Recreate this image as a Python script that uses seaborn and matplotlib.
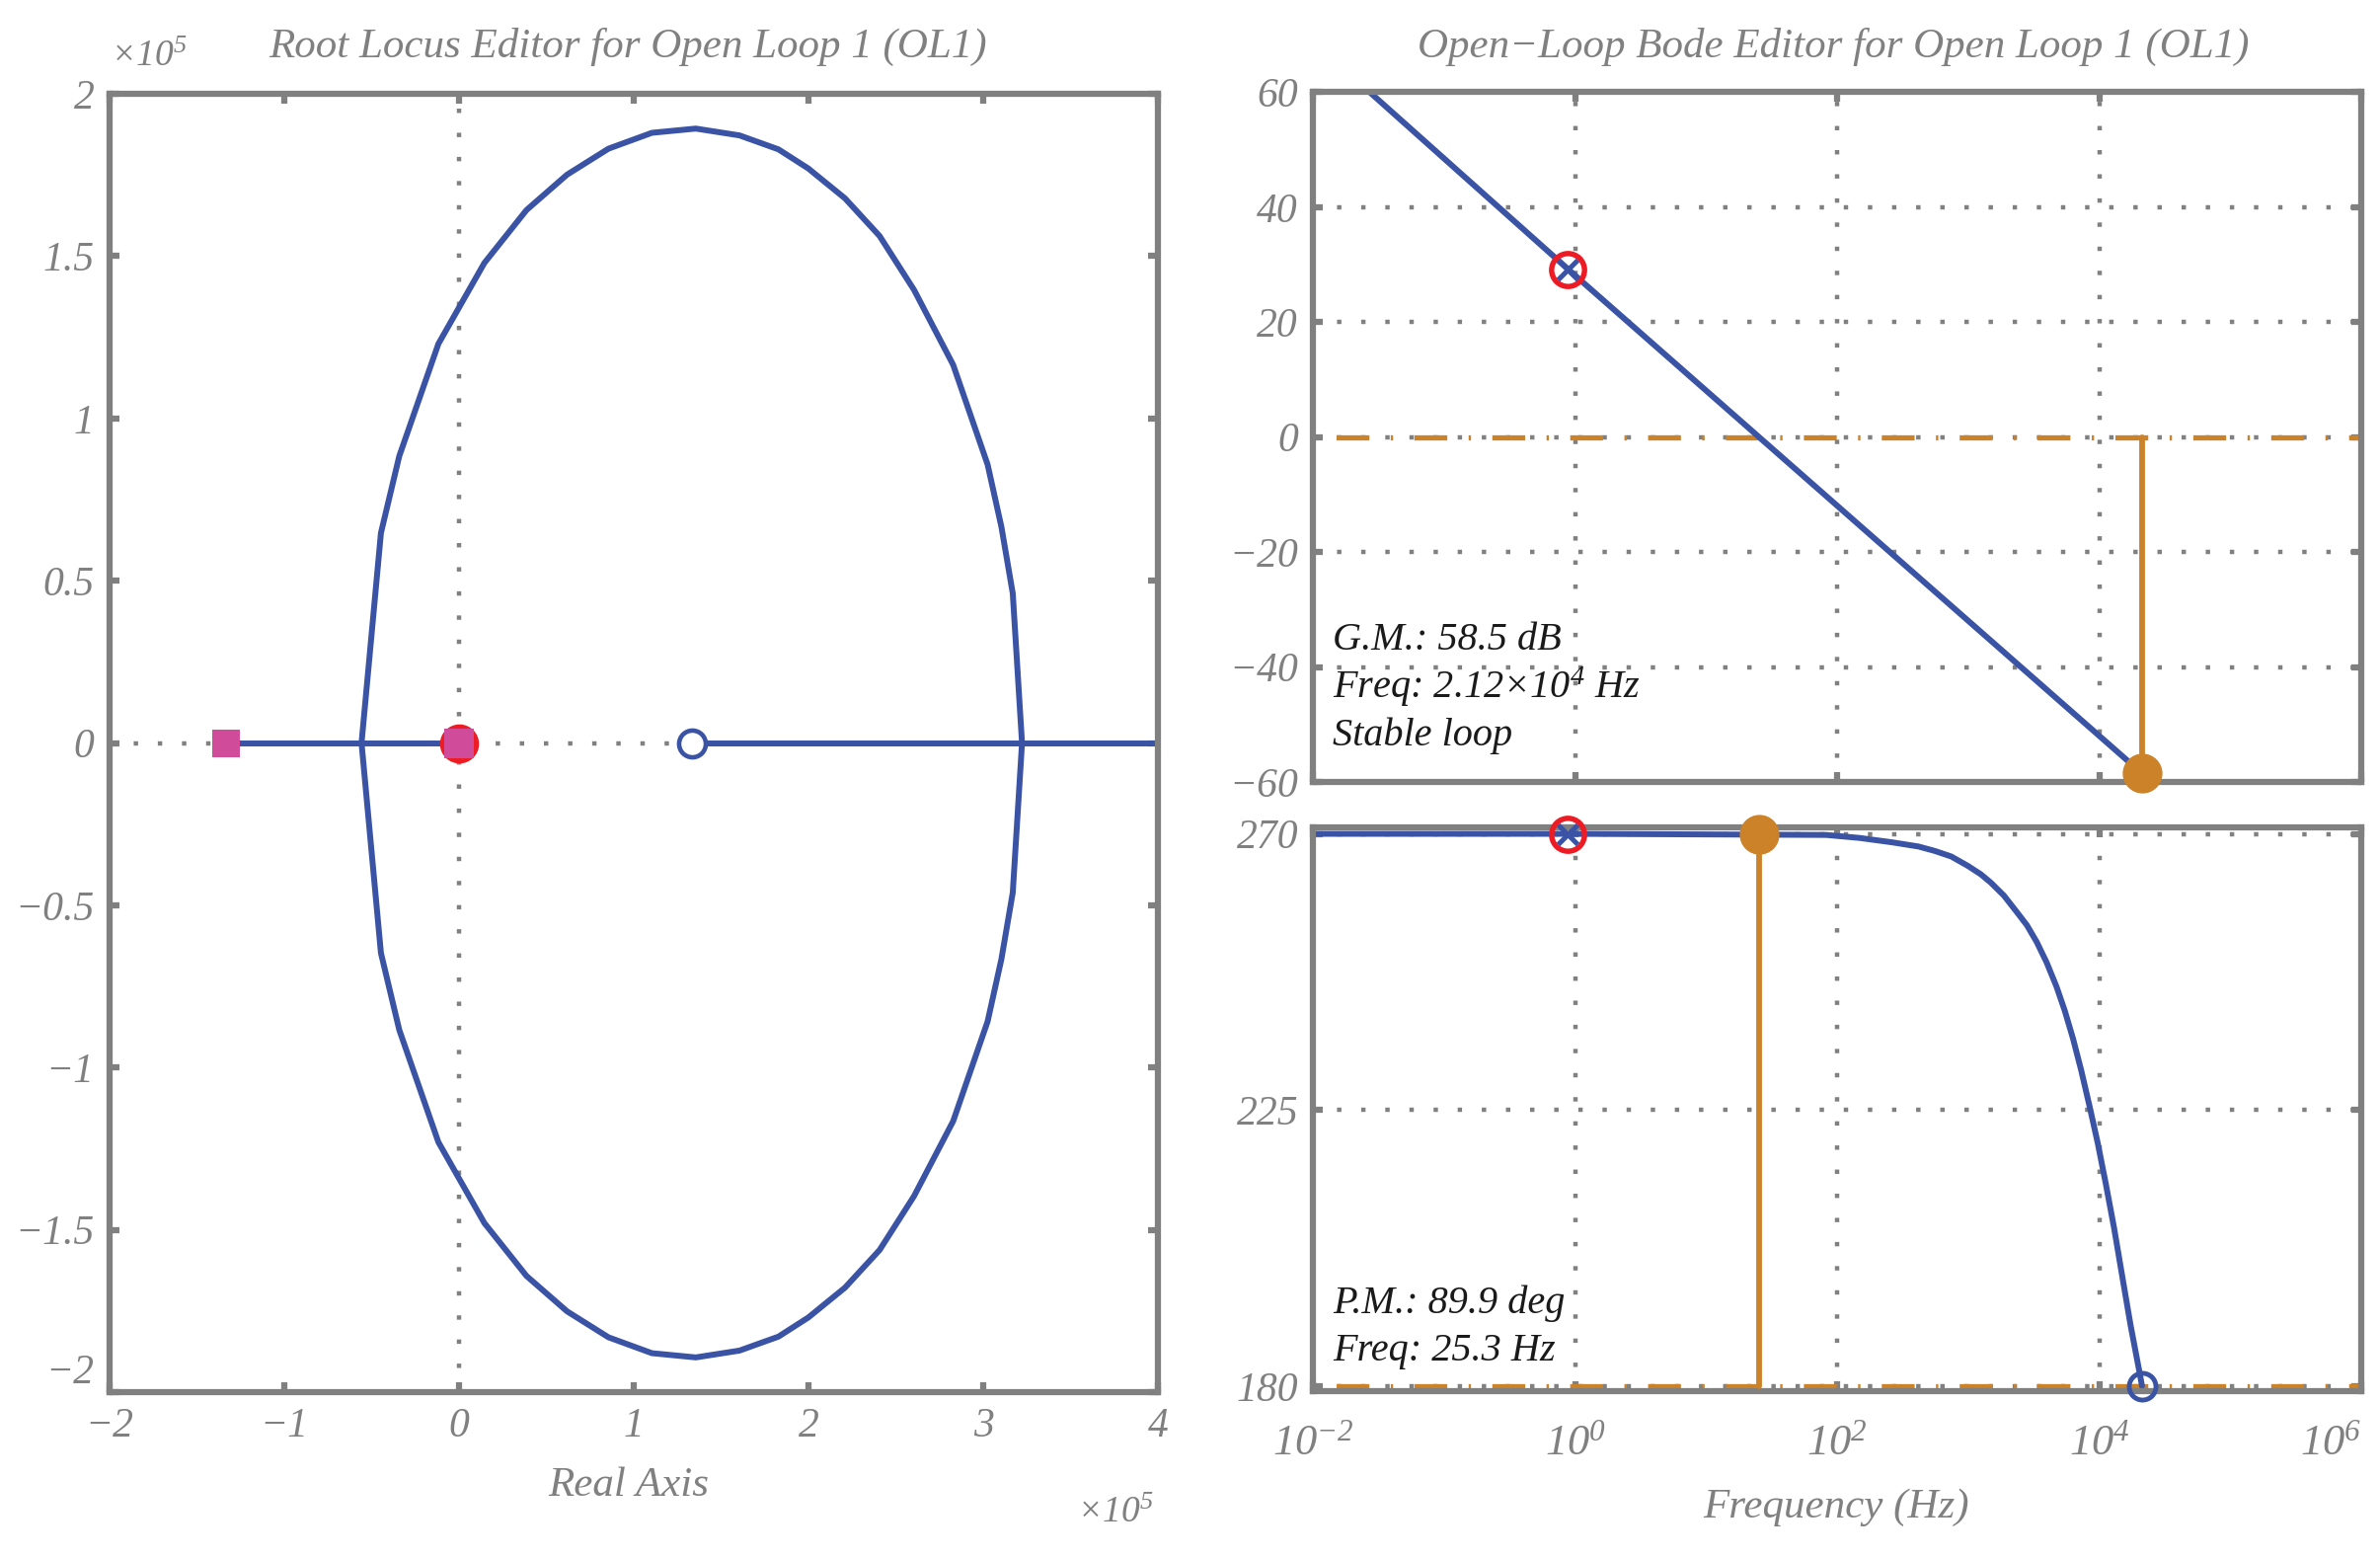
import pandas as pd
import matplotlib
matplotlib.use('Agg')
import matplotlib.pyplot as plt
from matplotlib.ticker import NullLocator
import seaborn as sns

# Root locus (real / imaginary parts in units of 1e5), upper branch vertices
locus_re = [-0.558, -0.447, -0.342, -0.118, 0.145, 0.386, 0.618, 0.855, 1.104, 1.355,
            1.605, 1.828, 1.999, 2.209, 2.407, 2.604, 2.828, 3.025, 3.104, 3.169, 3.222]
locus_im = [0.0, 0.647, 0.884, 1.230, 1.479, 1.642, 1.751, 1.831, 1.880, 1.893,
            1.872, 1.829, 1.770, 1.678, 1.562, 1.396, 1.165, 0.858, 0.666, 0.461, 0.0]
real_branch_left = [-1.335, 0.0]
real_branch_right = [1.333, 4.3]
cl_pole_re = [-1.335, 0.0]
ol_pole_re = [0.0]
ol_zero_re = [1.333]
rl_xticks = [-2, -1, 0, 1, 2, 3, 4]
rl_xlabels = ['\u22122', '\u22121', '0', '1', '2', '3', '4']
rl_yticks = [-2, -1.5, -1, -0.5, 0, 0.5, 1, 1.5, 2]
rl_ylabels = ['\u22122', '\u22121.5', '\u22121', '\u22120.5', '0', '0.5', '1', '1.5', '2']

# Open-loop Bode
mag_freq = [0.027, 1.0, 25.3, 21200]
mag_db = [60.0, 28.1, 0.0, -58.5]
phase_freq = [0.01, 1.0, 82.3, 146.8, 261.8, 415.9, 555.9, 741.5, 989.7, 1249, 1486,
              1871, 2356, 2805, 3334, 3965, 4717, 5458, 6310, 7283, 8414, 9728,
              11220, 12990, 15000, 17330, 20610, 21200]
phase_deg = [270.0, 270.0, 269.82, 269.34, 268.62, 267.94, 267.21, 266.31, 264.80, 263.40,
             262.06, 259.95, 257.22, 255.11, 252.37, 249.05, 245.11, 241.17, 236.62,
             231.47, 225.72, 219.67, 213.0, 205.74, 197.85, 189.98, 181.5, 180.0]
pole_freq, pole_db, pole_deg = 0.875, 29.2, 270.0
gm_freq, gm_db = 21200, -58.5
pm_freq, pm_deg = 25.3, 269.9
zero_freq, zero_deg = 21200, 180.0
mag_ticks = [-60, -40, -20, 0, 20, 40, 60]
mag_labels = ['\u221260', '\u221240', '\u221220', '0', '20', '40', '60']
phase_ticks = [180, 225, 270]
phase_labels = ['180', '225', '270']
freq_ticks = [1e-2, 1e0, 1e2, 1e4, 1e6]
freq_labels = [r'$10^{-2}$', r'$10^{0}$', r'$10^{2}$', r'$10^{4}$', r'$10^{6}$']

GRAY = '#808080'
BLUE = '#3A53A4'
ORANGE = '#CC8229'
RED = '#ED1C24'
PINK = '#D14B9B'
TXT = '#1a1a1a'
DOT = (0, (1, 4.5))
DASHDOT = (10.5, (6.3, 4.1, 0.45, 4.1))

sns.set_theme(style='white')
plt.rcParams.update({
    'font.family': ['Liberation Serif', 'DejaVu Serif'],
    'font.style': 'italic',
    'mathtext.fontset': 'custom',
    'mathtext.rm': 'Liberation Serif:italic',
    'mathtext.it': 'Liberation Serif:italic',
    'mathtext.bf': 'Liberation Serif:italic',
    'axes.unicode_minus': True,
})


def style_axes(ax):
    for s in ax.spines.values():
        s.set_visible(True)
        s.set_color(GRAY)
        s.set_linewidth(4.5)
        s.set_zorder(3)
    ax.tick_params(which='major', direction='in', length=7, width=4.5, color=GRAY,
                   labelcolor=GRAY, labelsize=30, pad=11,
                   top=True, right=True, bottom=True, left=True)
    ax.xaxis.set_minor_locator(NullLocator())
    ax.yaxis.set_minor_locator(NullLocator())
    ax.set_facecolor('white')


fig = plt.figure(figsize=(24.11, 15.78), dpi=100)
ax_rl = fig.add_axes([0.04604, 0.10646, 0.4405, 0.8333])
ax_mag = fig.add_axes([0.5518, 0.4981, 0.4403, 0.4427])
ax_ph = fig.add_axes([0.5518, 0.10684, 0.4403, 0.3619])

# ---------- root locus ----------
ax_rl.axhline(0, color=GRAY, lw=3.2, ls=DOT, zorder=1)
ax_rl.axvline(0, color=GRAY, lw=3.2, ls=DOT, zorder=1)
upper = pd.DataFrame({'re': locus_re, 'im': locus_im})
lower = pd.DataFrame({'re': locus_re, 'im': [-v for v in locus_im]})
for part in (upper, lower):
    sns.lineplot(data=part, x='re', y='im', sort=False, estimator=None,
                 color=BLUE, linewidth=4.3, ax=ax_rl, zorder=2)
for seg in (real_branch_left, real_branch_right):
    sns.lineplot(x=seg, y=[0.0] * len(seg), sort=False, estimator=None,
                 color=BLUE, linewidth=4.3, ax=ax_rl, zorder=2)
ax_rl.plot(ol_pole_re, [0.0], 'o', ms=27.5, color=RED, mec=RED, zorder=4)
ax_rl.plot(cl_pole_re[:1], [0.0], 's', ms=19.5, color=PINK, mew=0, zorder=5)
ax_rl.plot(cl_pole_re[1:], [0.0], 's', ms=21.5, color=PINK, mew=0, zorder=5)
ax_rl.plot(ol_zero_re, [0.0], 'o', ms=19.5, mfc='white', mec=BLUE, mew=3.3, zorder=4)
ax_rl.set_xlim(-2, 4)
ax_rl.set_ylim(-2, 2)
style_axes(ax_rl)
ax_rl.set_xticks(rl_xticks, labels=rl_xlabels)
ax_rl.set_yticks(rl_yticks, labels=rl_ylabels)
ax_rl.get_yticklabels()[0].set_va('bottom')
ax_rl.set_xlabel('')
ax_rl.set_ylabel('')

# ---------- bode magnitude ----------
ax_mag.set_xscale('log')
mag_df = pd.DataFrame({'f': mag_freq, 'db': mag_db})
sns.lineplot(data=mag_df, x='f', y='db', sort=False, estimator=None,
             color=BLUE, linewidth=4.3, ax=ax_mag, zorder=3)
ax_mag.axhline(0, color=ORANGE, lw=3.8, ls=DASHDOT, zorder=2)
ax_mag.plot([gm_freq, gm_freq], [0, gm_db], color=ORANGE, lw=4.2, zorder=4)
ax_mag.plot(gm_freq, gm_db, 'o', ms=28, color=ORANGE, mec=ORANGE, clip_on=False, zorder=6)
ax_mag.plot(pole_freq, pole_db, 'x', ms=14, color=BLUE, mew=3.6, zorder=5)
ax_mag.plot(pole_freq, pole_db, 'o', ms=24, mfc='none', mec=RED, mew=3.9, zorder=6)
ax_mag.set_xlim(1e-2, 1e6)
ax_mag.set_ylim(-60, 60)
style_axes(ax_mag)
ax_mag.set_xticks(freq_ticks)
ax_mag.set_yticks(mag_ticks, labels=mag_labels)
ax_mag.tick_params(axis='x', labelbottom=False)
ax_mag.xaxis.set_minor_locator(NullLocator())
ax_mag.grid(True, which='major', color=GRAY, lw=3.2, ls=DOT)
ax_mag.set_axisbelow(True)
ax_mag.set_xlabel('')
ax_mag.set_ylabel('')
ax_mag.text(0.0185, 0.1918, 'G.M.: 58.5 dB', transform=ax_mag.transAxes,
            fontsize=29, color=TXT, va='baseline')
ax_mag.text(0.0185, 0.1216, 'Freq: 2.12\u00d710$^4$ Hz', transform=ax_mag.transAxes,
            fontsize=29, color=TXT, va='baseline')
ax_mag.text(0.0185, 0.0529, 'Stable loop', transform=ax_mag.transAxes,
            fontsize=29, color=TXT, va='baseline')

# ---------- bode phase ----------
ax_ph.set_xscale('log')
ph_df = pd.DataFrame({'f': phase_freq, 'deg': phase_deg})
sns.lineplot(data=ph_df, x='f', y='deg', sort=False, estimator=None,
             color=BLUE, linewidth=4.3, ax=ax_ph, zorder=3)
ax_ph.axhline(180, color=ORANGE, lw=3.8, ls=DASHDOT, zorder=2)
ax_ph.plot([pm_freq, pm_freq], [180, pm_deg], color=ORANGE, lw=4.2, zorder=4)
ax_ph.plot(pm_freq, pm_deg, 'o', ms=28, color=ORANGE, mec=ORANGE, clip_on=False, zorder=6)
ax_ph.plot(pole_freq, pole_deg, 'x', ms=14, color=BLUE, mew=3.6, clip_on=False, zorder=5)
ax_ph.plot(pole_freq, pole_deg, 'o', ms=24, mfc='none', mec=RED, mew=3.9, clip_on=False, zorder=6)
ax_ph.plot(zero_freq, zero_deg, 'o', ms=19.5, mfc='none', mec=BLUE, mew=3.5, clip_on=False, zorder=6)
ax_ph.set_xlim(1e-2, 1e6)
ax_ph.set_ylim(179.1, 271.0)
style_axes(ax_ph)
ax_ph.set_xticks(freq_ticks, labels=freq_labels)
ax_ph.set_yticks(phase_ticks, labels=phase_labels)
ax_ph.xaxis.set_minor_locator(NullLocator())
ax_ph.tick_params(axis='x', labelsize=32, pad=24)
ax_ph.get_xticklabels()[-1].set_ha('right')
ax_ph.grid(True, which='major', color=GRAY, lw=3.2, ls=DOT)
ax_ph.set_axisbelow(True)
ax_ph.set_xlabel('')
ax_ph.set_ylabel('')
ax_ph.text(0.0185, 0.139, 'P.M.: 89.9 deg', transform=ax_ph.transAxes,
           fontsize=29, color=TXT, va='baseline')
ax_ph.text(0.0185, 0.0553, 'Freq: 25.3 Hz', transform=ax_ph.transAxes,
           fontsize=29, color=TXT, va='baseline')

# ---------- titles and labels ----------
fig.text(0.2638, 0.9696, 'Root Locus Editor for Open Loop 1 (OL1)', ha='center', va='center',
         fontsize=31, color=GRAY)
fig.text(0.7702, 0.9696, 'Open\u2212Loop Bode Editor for Open Loop 1 (OL1)', ha='center',
         va='center', fontsize=31, color=GRAY)
fig.text(0.2642, 0.0463, 'Real Axis', ha='center', va='center', fontsize=31, color=GRAY)
fig.text(0.7715, 0.0323, 'Frequency (Hz)', ha='center', va='center', fontsize=31, color=GRAY)
fig.text(0.0626, 0.9632, '\u00d710$^5$', ha='center', va='center', fontsize=27, color=GRAY)
fig.text(0.4687, 0.0285, '\u00d710$^5$', ha='center', va='center', fontsize=27, color=GRAY)

fig.savefig('out.png', dpi=100, facecolor='white')
